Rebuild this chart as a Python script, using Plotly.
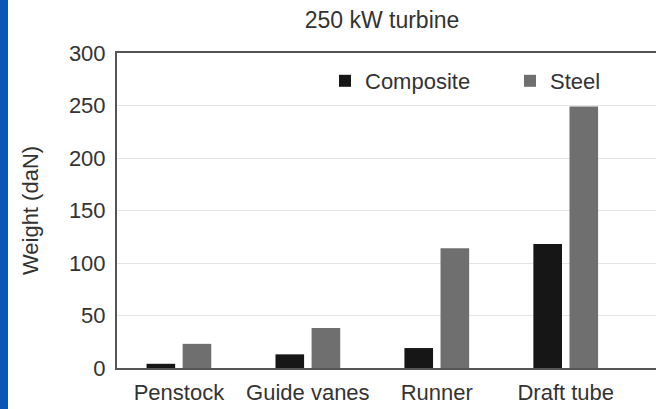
import plotly.graph_objects as go

categories = ["Penstock", "Guide vanes", "Runner", "Draft tube"]
composite = [4, 13, 19, 118]
steel = [23, 38, 114, 249]
y_ticks = [0, 50, 100, 150, 200, 250, 300]

FONT = "Liberation Sans, Arial, sans-serif"
TXT = "#333333"
W, H = 656, 409
L, T, B = 117, 53, 41
PW, PH = W - L, H - T - B

fig = go.Figure()
fig.add_trace(go.Bar(x=categories, y=composite, name="Composite", legend="legend",
                     marker=dict(color="#161616", line=dict(width=0)),
                     width=0.222, offset=-0.251))
fig.add_trace(go.Bar(x=categories, y=steel, name="Steel", legend="legend2",
                     marker=dict(color="#6f6f6f", line=dict(width=0)),
                     width=0.222, offset=0.029))

leg_common = dict(orientation="h", xanchor="left", yanchor="middle",
                  y=(368 - 81) / PH, font=dict(size=22, color=TXT),
                  bgcolor="rgba(0,0,0,0)", itemwidth=30)

fig.update_layout(
    width=W, height=H,
    margin=dict(l=L, r=0, t=T, b=B, pad=0, autoexpand=False),
    paper_bgcolor="white", plot_bgcolor="white",
    font=dict(family=FONT, size=22, color=TXT),
    barmode="group",
    showlegend=True,
    title=dict(text="250 kW turbine", x=382 / W, xanchor="center",
               y=1 - 20 / H, yanchor="middle", font=dict(size=23, color=TXT)),
    legend=dict(x=(325 - L) / PW, **leg_common),
    legend2=dict(x=(510 - L) / PW, **leg_common),
    xaxis=dict(type="category", range=[-0.48, 3.70], showgrid=False,
               showline=True, linecolor="#555555", linewidth=2, mirror=True,
               ticks="", tickangle=0, automargin=False, ticklabelstandoff=4,
               tickfont=dict(size=22, color=TXT), fixedrange=True),
    yaxis=dict(range=[0, 300], tickvals=y_ticks, showgrid=True,
               gridcolor="#e4e4e4", gridwidth=1, zeroline=False,
               showline=True, linecolor="#555555", linewidth=2,
               ticks="", ticklabelstandoff=5, automargin=False,
               tickfont=dict(size=22, color=TXT), fixedrange=True,
               title=dict(text="Weight (daN)", font=dict(size=22, color=TXT), standoff=24)),
    shapes=[dict(type="rect", xref="paper", yref="paper", x0=-L / PW, x1=-(L - 8) / PW,
                 y0=-B / PH, y1=(H - B) / PH,
                 fillcolor="#0a55b5", line=dict(width=0), layer="above")],
)

fig.write_html("out.html")
